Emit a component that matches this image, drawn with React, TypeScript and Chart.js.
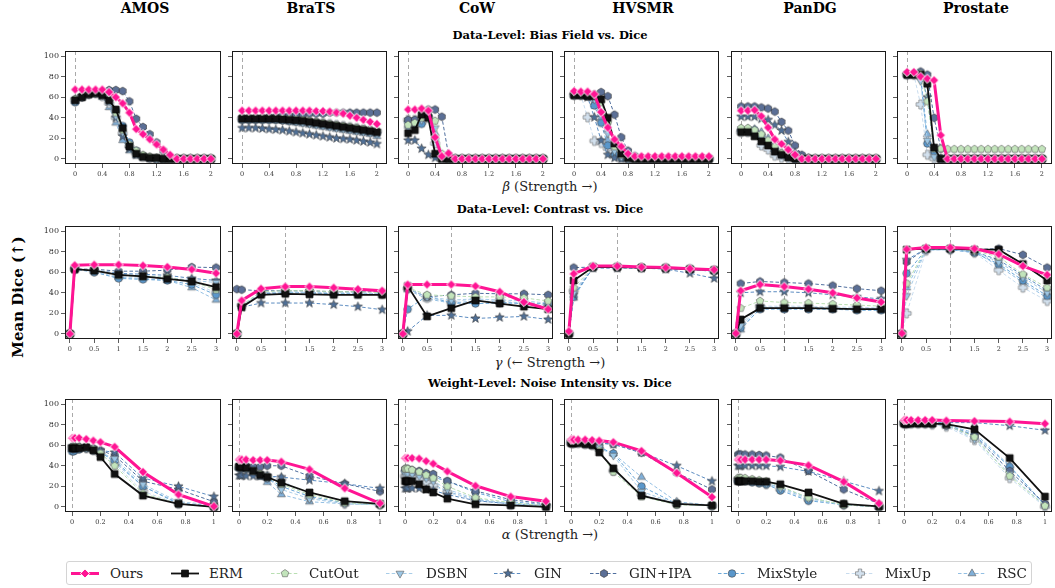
import React, { useEffect, useRef } from "react";
import { Chart, registerables } from "chart.js";

Chart.register(...registerables);

// ---------------- data ----------------
const DATASETS = ["AMOS", "BraTS", "CoW", "HVSMR", "PanDG", "Prostate"];
const METHODS = ["Ours", "ERM", "CutOut", "DSBN", "GIN", "GIN+IPA", "MixStyle", "MixUp", "RSC"];

const BETA = [0, 0.1, 0.2, 0.3, 0.4, 0.5, 0.6, 0.7, 0.8, 0.9, 1.0, 1.1, 1.2, 1.3, 1.4, 1.5, 1.6, 1.7, 1.8, 1.9, 2.0];
const GAMMA = [0, 0.1, 0.5, 1, 1.5, 2, 2.5, 3];
const ALPHA = [0, 0.01, 0.02, 0.05, 0.1, 0.15, 0.2, 0.3, 0.5, 0.75, 1];

const BETA_TICKS = [0, 0.4, 0.8, 1.2, 1.6, 2];
const GAMMA_TICKS = [0, 0.5, 1, 1.5, 2, 2.5, 3];
const ALPHA_TICKS = [0, 0.2, 0.4, 0.6, 0.8, 1];
const DICE_TICKS = [0, 20, 40, 60, 80, 100];

const ROW_TITLES = ["Data-Level: Bias Field vs. Dice", "Data-Level: Contrast vs. Dice", "Weight-Level: Noise Intensity vs. Dice"];
const X_SYMBOLS = ["β", "γ", "α"];
const X_TEXTS = [" (Strength →)", " (← Strength →)", " (Strength →)"];
const Y_LABEL = "Mean Dice (↑)";

// Row 1: bias field (x = BETA), series order = METHODS
const BIAS_AMOS = [
  [67.5, 67.5, 67.5, 67.5, 67.5, 65, 60, 54, 45, 29, 24, 19, 14, 9, 4, 0, 0, 0, 0, 0, 0],
  [57, 60, 63, 64, 62, 57, 48, 30, 12, 5, 2, 1, 1, 0, 0, 0, 0, 0, 0, 0, 0],
  [58, 61, 63, 64, 62, 58, 45, 28, 14, 8, 4, 2, 1, 0, 0, 0, 0, 0, 0, 0, 0],
  [56, 60, 63, 64, 62, 56, 42, 26, 14, 8, 3, 1, 0, 0, 0, 0, 0, 0, 0, 0, 0],
  [58, 61, 63, 64, 62, 56, 40, 22, 10, 4, 2, 1, 0, 0, 0, 0, 0, 0, 0, 0, 0],
  [57, 61, 63, 64, 64, 67, 67, 66, 56, 39, 31, 24, 16, 8, 2, 0, 0, 0, 0, 0, 0],
  [55, 60, 63, 64, 62, 58, 47, 32, 16, 8, 3, 1, 0, 0, 0, 0, 0, 0, 0, 0, 0],
  [57, 61, 63, 64, 61, 54, 40, 25, 12, 5, 2, 1, 0, 0, 0, 0, 0, 0, 0, 0, 0],
  [56, 60, 63, 64, 60, 50, 35, 18, 8, 3, 1, 0, 0, 0, 0, 0, 0, 0, 0, 0, 0],
];
const BIAS_BRATS = [
  [47, 47, 47, 47, 47, 47, 47, 47, 47, 47, 47, 46.5, 46.5, 46, 45, 44, 42, 40, 38, 36, 34],
  [39, 39, 39, 39, 39, 39, 38.5, 38, 37.5, 37, 36, 35, 34, 33, 32, 31, 30, 29, 28, 27, 26],
  [40, 40, 40, 40, 40, 40, 39.5, 39, 38.5, 38, 37, 36, 35, 34, 33, 32, 31, 30, 29, 28, 27],
  [39, 39, 39, 39, 39, 38.5, 38, 37, 36, 35, 34, 33, 32, 31, 30, 29, 28, 27, 26, 25, 24],
  [30, 30, 30, 29.5, 29, 28.5, 28, 27, 26, 25, 24, 23, 22, 21, 20, 19.5, 19, 18, 17, 16, 14.5],
  [40, 40, 40, 40, 41, 41, 42, 42, 43, 43, 44, 44, 44, 45, 45, 45, 45, 45, 45, 45, 45],
  [38, 38, 38, 38, 38, 38, 37.5, 37, 36.5, 36, 35, 34, 33, 32, 31, 30, 29, 28, 27, 26, 25],
  [39, 39, 39, 39, 39, 39, 38.5, 38, 37.5, 37, 36, 35.5, 35, 34, 33, 32, 31, 30, 29, 28, 27],
  [38, 38, 38, 38, 38, 37.5, 37, 36, 35, 34, 33, 32, 31, 30, 29, 28, 27, 26, 25, 24, 22],
];
const BIAS_COW = [
  [48, 48, 49, 47, 21, 2.5, 5.5, 0, 0, 0, 0, 0, 0, 0, 0, 0, 0, 0, 0, 0, 0],
  [25, 28, 43, 40, 5, 0, 0, 0, 0, 0, 0, 0, 0, 0, 0, 0, 0, 0, 0, 0, 0],
  [33, 35, 40, 47, 37, 5, 0, 0, 0, 0, 0, 0, 0, 0, 0, 0, 0, 0, 0, 0, 0],
  [30, 33, 38, 45, 30, 3, 0, 0, 0, 0, 0, 0, 0, 0, 0, 0, 0, 0, 0, 0, 0],
  [18, 18, 10, 4, 1, 0, 0, 0, 0, 0, 0, 0, 0, 0, 0, 0, 0, 0, 0, 0, 0],
  [38, 38, 40, 48, 48, 41, 4, 0, 0, 0, 0, 0, 0, 0, 0, 0, 0, 0, 0, 0, 0],
  [36, 37, 34, 42, 20, 2, 0, 0, 0, 0, 0, 0, 0, 0, 0, 0, 0, 0, 0, 0, 0],
  [38, 38, 36, 40, 15, 1, 0, 0, 0, 0, 0, 0, 0, 0, 0, 0, 0, 0, 0, 0, 0],
  [32, 34, 36, 42, 25, 2, 0, 0, 0, 0, 0, 0, 0, 0, 0, 0, 0, 0, 0, 0, 0],
];
const BIAS_HVSMR = [
  [66, 65.5, 65.5, 63, 45.5, 30.5, 19, 12, 5, 2.5, 2.5, 2.5, 2.5, 2.5, 2.5, 2.5, 2.5, 2.5, 2.5, 2.5, 2.5],
  [62, 62, 61, 61, 58, 40, 15, 5, 1, 0, 0, 0, 0, 0, 0, 0, 0, 0, 0, 0, 0],
  [63, 63, 62, 62, 55, 35, 12, 4, 1, 0, 0, 0, 0, 0, 0, 0, 0, 0, 0, 0, 0],
  [62, 62, 61, 58, 45, 25, 8, 2, 0, 0, 0, 0, 0, 0, 0, 0, 0, 0, 0, 0, 0],
  [62, 62, 60, 40.5, 18, 4, 1, 0, 0, 0, 0, 0, 0, 0, 0, 0, 0, 0, 0, 0, 0],
  [63, 63, 63, 63, 65, 61, 43, 21, 8, 3, 1, 0, 0, 0, 0, 0, 0, 0, 0, 0, 0],
  [62, 62, 61, 52, 35, 13, 4, 1, 0, 0, 0, 0, 0, 0, 0, 0, 0, 0, 0, 0, 0],
  [62, 62, 40.5, 17.5, 15.5, 10, 3, 1, 0, 0, 0, 0, 0, 0, 0, 0, 0, 0, 0, 0, 0],
  [62, 62, 61, 55, 40, 18, 5, 1, 0, 0, 0, 0, 0, 0, 0, 0, 0, 0, 0, 0, 0],
];
const BIAS_PANDG = [
  [47, 47, 47.5, 41.5, 30.5, 19, 14.5, 9, 4, 0, 0, 0, 0, 0, 0, 0, 0, 0, 0, 0, 0],
  [26, 26, 22, 17, 13, 7, 4, 1.5, 0, 0, 0, 0, 0, 0, 0, 0, 0, 0, 0, 0, 0],
  [30, 30, 28, 24, 18, 12, 6, 3, 1, 0, 0, 0, 0, 0, 0, 0, 0, 0, 0, 0, 0],
  [27, 27, 26, 22, 16, 9, 5, 2, 0, 0, 0, 0, 0, 0, 0, 0, 0, 0, 0, 0, 0],
  [41, 41, 41, 39, 38, 33, 27.5, 16.5, 6, 1, 0, 0, 0, 0, 0, 0, 0, 0, 0, 0, 0],
  [51, 51, 51, 50, 49, 46, 36, 27.5, 13, 4, 1, 0, 0, 0, 0, 0, 0, 0, 0, 0, 0],
  [28, 28, 28, 22, 14, 8, 4, 2, 0, 0, 0, 0, 0, 0, 0, 0, 0, 0, 0, 0, 0],
  [26, 26, 24, 13, 9, 3, 1, 0, 0, 0, 0, 0, 0, 0, 0, 0, 0, 0, 0, 0, 0],
  [29, 29, 29, 26, 20, 12, 6, 2, 0, 0, 0, 0, 0, 0, 0, 0, 0, 0, 0, 0, 0],
];
const BIAS_PROSTATE = [
  [84.5, 84.5, 80, 78, 76.5, 23, 0, 0, 0, 0, 0, 0, 0, 0, 0, 0, 0, 0, 0, 0, 0],
  [82, 82, 82, 73, 11, 0, 0, 0, 0, 0, 0, 0, 0, 0, 0, 0, 0, 0, 0, 0, 0],
  [82, 82, 83, 56, 10, 10, 9.5, 9.5, 9.5, 9.5, 9.5, 9.5, 9.5, 9.5, 9.5, 9.5, 9.5, 9.5, 9.5, 9.5, 9.5],
  [82, 82, 76, 18, 2, 0, 0, 0, 0, 0, 0, 0, 0, 0, 0, 0, 0, 0, 0, 0, 0],
  [82, 82, 82, 60, 10, 0, 0, 0, 0, 0, 0, 0, 0, 0, 0, 0, 0, 0, 0, 0, 0],
  [83, 83, 85, 82, 40, 10, 0, 0, 0, 0, 0, 0, 0, 0, 0, 0, 0, 0, 0, 0, 0],
  [82, 82, 80, 15, 7, 0, 0, 0, 0, 0, 0, 0, 0, 0, 0, 0, 0, 0, 0, 0, 0],
  [82, 82, 53, 4, 0, 0, 0, 0, 0, 0, 0, 0, 0, 0, 0, 0, 0, 0, 0, 0, 0],
  [82, 82, 80, 24, 3, 0, 0, 0, 0, 0, 0, 0, 0, 0, 0, 0, 0, 0, 0, 0, 0],
];

// Row 2: contrast (x = GAMMA)
const CONTRAST_AMOS = [
  [0, 66.8, 67.4, 67.4, 66.5, 65.2, 62.7, 59],
  [0, 63, 61.5, 57.5, 56, 53.5, 51, 45.5],
  [0, 63, 62, 57, 56, 55, 51, 43],
  [0, 63, 62, 58, 57, 55, 52, 50],
  [0, 63, 62, 59, 58, 57, 54, 52],
  [0, 63, 63, 61, 61, 62, 65, 64.5],
  [0, 63, 60, 54, 53, 52, 48, 38],
  [0, 63, 61, 56, 55, 54, 50, 40],
  [0, 63, 61, 55, 54, 52, 45, 33],
];
const CONTRAST_BRATS = [
  [0, 32.5, 44, 46, 46, 45, 43.5, 42],
  [0, 26, 38, 39, 38.5, 38, 38, 38],
  [0, 28, 41, 42, 42, 41, 41, 40],
  [0, 27, 40, 41, 40, 40, 40, 39],
  [0, 26, 30, 30, 30, 28.5, 26.5, 23.5],
  [43.5, 43, 42, 42, 42, 41, 41, 41],
  [0, 27, 39, 40, 40, 39, 39, 39],
  [0, 28, 40, 41, 41, 40, 40, 39],
  [0, 27, 39, 40, 40, 39, 39, 38],
];
const CONTRAST_COW = [
  [0, 48, 48, 48, 46.5, 41, 31, 24],
  [0, 46.5, 17, 25, 32.5, 29.5, 26.5, 24],
  [0, 45, 38, 37, 36, 36, 35, 32],
  [0, 44, 36, 33, 34, 33, 32, 30],
  [0, 2.5, 18, 18, 15, 16, 17, 14],
  [0, 44, 36, 38, 39.5, 39, 39, 38],
  [0, 24, 37, 30, 29.5, 30, 30, 29.5],
  [0, 44, 35, 31, 34, 32, 30, 28],
  [0, 43, 34, 30, 32, 31, 29, 27],
];
const CONTRAST_HVSMR = [
  [2.5, 58.5, 66, 66, 65, 64.5, 63.5, 62.5],
  [0, 52, 65, 65, 64.5, 64, 63, 62],
  [0, 45, 65, 65, 64.5, 64, 63, 62],
  [0, 40, 65, 65, 64.5, 64, 63, 61],
  [0, 38, 64, 64, 64, 63, 59, 54],
  [0, 64.5, 65, 65, 65, 64.5, 63.5, 62.5],
  [0, 36, 65, 65, 64, 63.5, 62.5, 61],
  [0, 42, 65, 65, 64.5, 64, 63, 61.5],
  [0, 35, 65, 65, 64, 63.5, 62.5, 61],
];
const CONTRAST_PANDG = [
  [0.5, 42, 48, 46, 43.5, 40, 35, 31],
  [0, 14, 25, 25, 25, 24.5, 24, 24],
  [0, 25, 32, 30.5, 30, 29, 28, 27],
  [0, 8, 26, 26, 26, 25, 25, 25],
  [0, 40, 41, 41, 40, 38, 36, 34],
  [0, 49, 51, 50, 49, 47, 44, 42],
  [0, 6, 24, 24, 24, 24, 23, 23],
  [0, 10, 27, 27, 27, 26, 26, 25],
  [0, 4, 25, 25, 25, 24, 24, 24],
];
const CONTRAST_PROSTATE = [
  [0.5, 82.3, 84, 84, 83, 77.5, 66, 57.5],
  [0, 82, 83, 83, 82, 82, 68, 52],
  [0, 49, 83, 83, 81, 75, 58, 45],
  [0, 37, 82, 82, 80, 70, 55, 40],
  [0, 72, 83, 83, 80, 72, 57, 42],
  [0, 70, 83, 83, 82, 83, 77, 64.5],
  [0, 59, 82, 82, 79, 68, 52, 37],
  [0, 20, 81, 82, 79, 62, 45, 32],
  [0, 45, 82, 82, 80, 66, 50, 35],
];

// Row 3: weight noise (x = ALPHA)
const NOISE_AMOS = [
  [67, 67, 67, 67, 66, 64.5, 63, 58.5, 34, 12, 0.5],
  [57, 57, 57, 57, 58, 55, 48.5, 32, 11, 3, 0],
  [58, 58, 58, 58, 58, 56, 52, 40, 13, 3, 0],
  [57, 57, 57, 57, 57, 56, 53, 47, 22, 5, 2],
  [59, 59, 59, 59, 58, 57, 55, 53, 28, 20, 10],
  [58, 58, 58, 58, 58, 57, 55, 50, 25, 17, 5],
  [54, 54, 55, 56, 57, 55, 53, 45, 20, 3, 0],
  [57, 57, 57, 57, 57, 55, 51, 42, 15, 3, 0],
  [56, 56, 56, 57, 57, 56, 54, 43, 20, 4, 1],
];
const NOISE_BRATS = [
  [46, 46, 46, 46, 45.5, 45.5, 45.5, 44, 36.5, 18, 3.5],
  [39, 39, 39, 38, 35, 31, 29, 23.5, 14, 5.5, 3],
  [39, 39, 39, 38, 35, 32, 29, 22, 12, 4, 2],
  [39, 39, 39, 38, 35, 32, 28, 17, 8, 3, 2],
  [30.5, 30.5, 30.5, 30, 30, 30, 30, 29, 26, 22.5, 18],
  [40, 40, 40, 40, 39, 39, 40, 40, 30, 22.5, 15],
  [38, 38, 38, 37, 34, 31, 28, 20, 10, 4, 2],
  [38, 38, 38, 37, 35, 32, 30, 27, 9, 3, 2],
  [38, 38, 38, 37, 33, 29, 24, 12, 5, 3, 2],
];
const NOISE_COW = [
  [47.5, 47.5, 47.5, 47.5, 47, 44.5, 42, 34.5, 20.5, 10, 5.5],
  [25, 25, 25, 25, 22, 17, 14, 8, 2.5, 1.5, 0],
  [37, 37, 37, 36, 34, 31, 28, 20, 9, 4, 1],
  [33, 33, 33, 32, 30, 28, 25, 17, 8, 3, 1],
  [18, 18, 18, 18, 18, 17, 16, 12, 6, 3, 1],
  [37, 37, 37, 36, 35, 33, 32, 25, 15.5, 7, 3],
  [35, 35, 35, 34, 33, 31, 29, 25, 14, 5, 2],
  [30, 30, 30, 29, 27, 24, 21, 14, 6, 2, 1],
  [31, 31, 31, 30, 28, 25, 22, 15, 7, 3, 1],
];
const NOISE_HVSMR = [
  [65.5, 65.5, 65.5, 65.5, 65.5, 65, 64.5, 63, 54.5, 33, 9.5],
  [62, 62, 62, 62, 61, 60, 53, 37.5, 11, 3, 1.5],
  [63, 63, 63, 63, 62, 61, 55, 34, 10, 2, 1],
  [63, 63, 63, 63, 62, 61, 58, 50, 15, 3, 1],
  [64, 64, 64, 64, 63, 63, 62, 61, 53, 40, 25],
  [64, 64, 64, 64, 63, 63, 62, 61, 52.5, 33, 17],
  [63, 63, 63, 63, 62, 61, 58, 52, 20, 3, 1],
  [62, 62, 62, 62, 61, 60, 56, 35, 12, 3, 1],
  [63, 63, 63, 63, 62, 61, 58, 52, 29, 5, 1.5],
];
const NOISE_PANDG = [
  [46, 46, 46, 46, 46, 46, 46, 45, 40.5, 24.5, 3.5],
  [25, 25, 25, 25, 25, 24.5, 24.5, 22, 14, 3, 0.5],
  [28, 28, 28, 28, 27, 26, 25, 20, 9, 2, 0],
  [26, 26, 26, 26, 25, 24, 23, 18, 8, 2, 0],
  [40, 40, 40, 40, 40, 40, 40, 39, 34.5, 25, 15.5],
  [51, 51, 51, 51, 51, 50.5, 50, 48, 35, 17, 3],
  [25, 25, 25, 25, 24, 23, 22, 16, 6, 2, 0],
  [27, 27, 27, 26, 25, 24, 22, 17, 7, 2, 0],
  [26, 26, 26, 26, 25, 24, 23, 19, 9, 2, 0],
];
const NOISE_PROSTATE = [
  [84.5, 84.5, 84.5, 84.5, 84.5, 84.5, 84.5, 84, 83.5, 83, 81],
  [81, 81, 81, 81, 81, 81, 81, 80.5, 75.5, 47.5, 10],
  [82, 82, 82, 82, 82, 82, 81, 80, 68, 30, 1],
  [82, 82, 82, 82, 82, 81, 81, 80, 66, 32, 1],
  [82, 82, 82, 82, 82, 82, 82, 82, 82, 79, 74.5],
  [82, 82, 82, 82, 82, 82, 81, 79, 69, 35, 3],
  [82, 82, 82, 82, 82, 82, 81, 80, 70, 39, 2],
  [81, 81, 81, 81, 81, 81, 80, 78, 65, 28, 0],
  [82, 82, 82, 82, 82, 82, 81, 80, 72, 40, 1.5],
];

// ---------------- layout & styles ----------------
const SERIF = "'DejaVu Serif', 'Liberation Serif', serif";
const COL_LEFT = [65, 231, 397, 563, 730, 896];
const ROW_TOP = [47, 222, 395];
const PANEL_W = 160;
const PANEL_H = 117;
const X_AXIS_H = 20;
const PAD = 3;

const ROW_X = [BETA, GAMMA, ALPHA];
const ROW_XTICKS = [BETA_TICKS, GAMMA_TICKS, ALPHA_TICKS];
const ROW_XMIN = [-0.15, -0.1, -0.05];
const ROW_XMAX = [2.15, 3.1, 1.05];
const ROW_REF = [0, 1, 0];
const ROW_DATA = [
  [BIAS_AMOS, BIAS_BRATS, BIAS_COW, BIAS_HVSMR, BIAS_PANDG, BIAS_PROSTATE],
  [CONTRAST_AMOS, CONTRAST_BRATS, CONTRAST_COW, CONTRAST_HVSMR, CONTRAST_PANDG, CONTRAST_PROSTATE],
  [NOISE_AMOS, NOISE_BRATS, NOISE_COW, NOISE_HVSMR, NOISE_PANDG, NOISE_PROSTATE],
];
const ROW_TITLE_Y = [34.5, 208.5, 382.5];
const ROW_XLABEL_Y = [186.5, 363, 534.5];

type Style = { shape: string; r: number; fill: string; edge: string; edgeW: number; line: string; lineW: number; dash: number[] };
const STYLES: Style[] = [
  { shape: "diamond", r: 4.6, fill: "#ff1493", edge: "#ffffff", edgeW: 1, line: "#ff1493", lineW: 3, dash: [] },
  { shape: "square", r: 3.4, fill: "#111111", edge: "#000000", edgeW: 0.8, line: "#111111", lineW: 1.8, dash: [] },
  { shape: "pentagon", r: 4, fill: "#c2e4bb", edge: "#5a5a5a", edgeW: 0.6, line: "#b9dfb2", lineW: 1, dash: [3.5, 2.2] },
  { shape: "tridown", r: 4.6, fill: "#9cc6e4", edge: "#5a5a5a", edgeW: 0.6, line: "#a8cde8", lineW: 1, dash: [3.5, 2.2] },
  { shape: "star", r: 4.8, fill: "#4f6f96", edge: "#3c3c3c", edgeW: 0.6, line: "#5b8bc0", lineW: 1, dash: [3.5, 2.2] },
  { shape: "hexagon", r: 4, fill: "#5b6f96", edge: "#333333", edgeW: 0.6, line: "#4f6e9e", lineW: 1, dash: [3.5, 2.2] },
  { shape: "circle", r: 3.8, fill: "#5a97cb", edge: "#444444", edgeW: 0.6, line: "#6aa7d8", lineW: 1, dash: [3.5, 2.2] },
  { shape: "plus", r: 4.5, fill: "#d3e1ee", edge: "#6a6a6a", edgeW: 0.6, line: "#c8dcee", lineW: 1, dash: [3.5, 2.2] },
  { shape: "triup", r: 4.6, fill: "#80afd8", edge: "#555555", edgeW: 0.6, line: "#93bfe3", lineW: 1, dash: [3.5, 2.2] },
];

const LEGEND_MARKER_X = [85, 185, 285, 400, 508, 604, 732, 860, 972];
const LEGEND_TEXT_X = [110, 209, 309, 426, 534, 629, 757, 885, 997];

// ---------------- markers ----------------
function pathShape(ctx: CanvasRenderingContext2D, shape: string, cx: number, cy: number, r: number) {
  ctx.beginPath();
  const poly = (n: number, start: number, radii?: number[]) => {
    for (let i = 0; i < n; i++) {
      const a = start + (i * 2 * Math.PI) / n;
      const rr = radii ? radii[i % radii.length] : r;
      const x = cx + rr * Math.cos(a);
      const y = cy + rr * Math.sin(a);
      if (i === 0) ctx.moveTo(x, y);
      else ctx.lineTo(x, y);
    }
    ctx.closePath();
  };
  switch (shape) {
    case "circle":
      ctx.arc(cx, cy, r, 0, Math.PI * 2);
      break;
    case "square":
      ctx.rect(cx - r, cy - r, 2 * r, 2 * r);
      break;
    case "diamond":
      poly(4, -Math.PI / 2);
      break;
    case "pentagon":
      poly(5, -Math.PI / 2);
      break;
    case "hexagon":
      poly(6, -Math.PI / 2);
      break;
    case "triup":
      poly(3, -Math.PI / 2);
      break;
    case "tridown":
      poly(3, Math.PI / 2);
      break;
    case "star":
      poly(10, -Math.PI / 2, [r, r * 0.42]);
      break;
    case "plus": {
      const a = r * 0.38;
      const pts = [[-a, -r], [a, -r], [a, -a], [r, -a], [r, a], [a, a], [a, r], [-a, r], [-a, a], [-r, a], [-r, -a], [-a, -a]];
      pts.forEach((p, i) => (i === 0 ? ctx.moveTo(cx + p[0], cy + p[1]) : ctx.lineTo(cx + p[0], cy + p[1])));
      ctx.closePath();
      break;
    }
  }
}

function drawMarker(ctx: CanvasRenderingContext2D, s: Style, cx: number, cy: number) {
  pathShape(ctx, s.shape, cx, cy, s.r);
  ctx.fillStyle = s.fill;
  ctx.fill();
  ctx.lineWidth = s.edgeW;
  ctx.strokeStyle = s.edge;
  ctx.setLineDash([]);
  ctx.stroke();
}

let markerCache: HTMLCanvasElement[] | null = null;
function getMarkers(): HTMLCanvasElement[] {
  if (markerCache) return markerCache;
  markerCache = STYLES.map((s) => {
    const size = Math.ceil(2 * (s.r + s.edgeW)) + 2;
    const c = document.createElement("canvas");
    c.width = size;
    c.height = size;
    const ctx = c.getContext("2d")!;
    drawMarker(ctx, s, size / 2, size / 2);
    return c;
  });
  return markerCache;
}

// ---------------- panel chart ----------------
function decorPlugin(refX: number) {
  return {
    id: "panelDecor",
    beforeDatasetsDraw(chart: any) {
      const { ctx, chartArea } = chart;
      const x = Math.round(chart.scales.x.getPixelForValue(refX)) + 0.5;
      ctx.save();
      ctx.strokeStyle = "#a9a9a9";
      ctx.lineWidth = 1;
      ctx.setLineDash([4, 3]);
      ctx.beginPath();
      ctx.moveTo(x, chartArea.top);
      ctx.lineTo(x, chartArea.bottom);
      ctx.stroke();
      ctx.restore();
    },
    afterDatasetsDraw(chart: any) {
      const { ctx, chartArea } = chart;
      ctx.save();
      ctx.strokeStyle = "#1a1a1a";
      ctx.lineWidth = 1;
      ctx.setLineDash([]);
      const l = Math.round(chartArea.left) + 0.5;
      const t = Math.round(chartArea.top) + 0.5;
      const r = Math.round(chartArea.right) - 0.5;
      const b = Math.round(chartArea.bottom) - 0.5;
      ctx.strokeRect(l, t, r - l, b - t);
      ctx.restore();
    },
  };
}

function Panel({ row, col }: { row: number; col: number }) {
  const ref = useRef<HTMLCanvasElement>(null);
  const yW = col === 0 ? 30 : 6;
  const cw = yW + PANEL_W + PAD;
  const ch = PAD + PANEL_H + X_AXIS_H;
  useEffect(() => {
    const markers = getMarkers();
    const xs = ROW_X[row];
    const series = ROW_DATA[row][col];
    const datasets = METHODS.map((m, i) => ({
      label: m,
      data: xs.map((x, k) => ({ x, y: series[i][k] })),
      borderColor: STYLES[i].line,
      borderWidth: STYLES[i].lineW,
      borderDash: STYLES[i].dash,
      pointStyle: markers[i],
      pointRadius: 4,
      pointHoverRadius: 4,
      tension: 0,
      fill: false,
    }));
    const xTicks = ROW_XTICKS[row];
    const chart = new Chart(ref.current!, {
      type: "line",
      data: { datasets },
      options: {
        animation: false,
        responsive: false,
        maintainAspectRatio: false,
        events: [],
        layout: { padding: { top: PAD, right: PAD, left: 0, bottom: 0 } },
        plugins: { legend: { display: false }, tooltip: { enabled: false }, title: { display: false } },
        scales: {
          x: {
            type: "linear",
            min: ROW_XMIN[row],
            max: ROW_XMAX[row],
            afterBuildTicks: (s: any) => {
              s.ticks = xTicks.map((v) => ({ value: v }));
            },
            afterFit: (s: any) => {
              s.height = X_AXIS_H;
            },
            ticks: {
              autoSkip: false,
              maxRotation: 0,
              minRotation: 0,
              padding: 2,
              color: "#333",
              font: { family: SERIF, size: 6.5 },
              callback: (v: any) => String(v),
            },
            grid: { display: true, drawOnChartArea: false, drawTicks: true, tickLength: 4, color: "#333", lineWidth: 0.8 },
            border: { display: false },
          },
          y: {
            type: "linear",
            min: -5,
            max: 105,
            afterBuildTicks: (s: any) => {
              s.ticks = DICE_TICKS.map((v) => ({ value: v }));
            },
            afterFit: (s: any) => {
              s.width = yW;
            },
            ticks: {
              display: col === 0,
              padding: 2,
              color: "#333",
              font: { family: SERIF, size: 8 },
              callback: (v: any) => String(v),
            },
            grid: { display: true, drawOnChartArea: false, drawTicks: true, tickLength: 4, color: "#333", lineWidth: 0.8 },
            border: { display: false },
          },
        },
      },
      plugins: [decorPlugin(ROW_REF[row])],
    } as any);
    return () => chart.destroy();
  }, [row, col]);
  return (
    <canvas
      ref={ref}
      width={cw}
      height={ch}
      style={{ position: "absolute", left: COL_LEFT[col] - yW, top: ROW_TOP[row] - PAD, width: cw, height: ch, display: "block" }}
    />
  );
}

function LegendIcon({ idx }: { idx: number }) {
  const ref = useRef<HTMLCanvasElement>(null);
  useEffect(() => {
    const c = ref.current!;
    const ctx = c.getContext("2d")!;
    ctx.clearRect(0, 0, c.width, c.height);
    const s = STYLES[idx];
    ctx.strokeStyle = s.line;
    ctx.lineWidth = s.lineW;
    ctx.setLineDash(s.dash);
    ctx.beginPath();
    ctx.moveTo(1, 7.5);
    ctx.lineTo(29, 7.5);
    ctx.stroke();
    drawMarker(ctx, s, 15, 7.5);
  }, [idx]);
  return (
    <canvas
      ref={ref}
      width={30}
      height={15}
      style={{ position: "absolute", left: LEGEND_MARKER_X[idx] - 15, top: 566, width: 30, height: 15, display: "block" }}
    />
  );
}

export default function App() {
  return (
    <div
      style={{
        position: "absolute",
        left: 0,
        top: 0,
        width: 1055,
        height: 588,
        overflow: "hidden",
        background: "#ffffff",
        fontFamily: SERIF,
        color: "#000",
      }}
    >
      {DATASETS.map((d, c) => (
        <div
          key={d}
          style={{
            position: "absolute",
            left: COL_LEFT[c],
            top: 0,
            width: PANEL_W,
            textAlign: "center",
            fontWeight: "bold",
            fontSize: 14,
            lineHeight: "17px",
          }}
        >
          {d}
        </div>
      ))}
      {ROW_TITLES.map((t, r) => (
        <div
          key={t}
          style={{
            position: "absolute",
            left: 350,
            width: 400,
            top: ROW_TITLE_Y[r] - 7,
            textAlign: "center",
            fontWeight: "bold",
            fontSize: 11.5,
            lineHeight: "14px",
            whiteSpace: "nowrap",
          }}
        >
          {t}
        </div>
      ))}
      {X_SYMBOLS.map((sym, r) => (
        <div
          key={sym}
          style={{
            position: "absolute",
            left: 350,
            width: 400,
            top: ROW_XLABEL_Y[r] - 8,
            textAlign: "center",
            fontSize: 13,
            lineHeight: "16px",
            whiteSpace: "nowrap",
            color: "#222",
          }}
        >
          <i>{sym}</i>
          {X_TEXTS[r]}
        </div>
      ))}
      <div
        style={{
          position: "absolute",
          left: 18,
          top: 297,
          transform: "translate(-50%, -50%) rotate(-90deg)",
          fontWeight: "bold",
          fontSize: 15,
          lineHeight: "18px",
          whiteSpace: "nowrap",
        }}
      >
        {Y_LABEL}
      </div>
      {ROW_TOP.map((_, r) => DATASETS.map((d, c) => <Panel key={`${r}-${d}`} row={r} col={c} />))}
      <div
        style={{
          position: "absolute",
          left: 66,
          top: 561,
          width: 966,
          height: 24,
          boxSizing: "border-box",
          border: "1px solid #d4d4d4",
          borderRadius: 3,
        }}
      />
      {METHODS.map((m, i) => (
        <React.Fragment key={m}>
          <LegendIcon idx={i} />
          <div
            style={{
              position: "absolute",
              left: LEGEND_TEXT_X[i],
              top: 565,
              fontSize: 13.5,
              lineHeight: "16px",
              whiteSpace: "nowrap",
              color: "#222",
            }}
          >
            {m}
          </div>
        </React.Fragment>
      ))}
    </div>
  );
}
